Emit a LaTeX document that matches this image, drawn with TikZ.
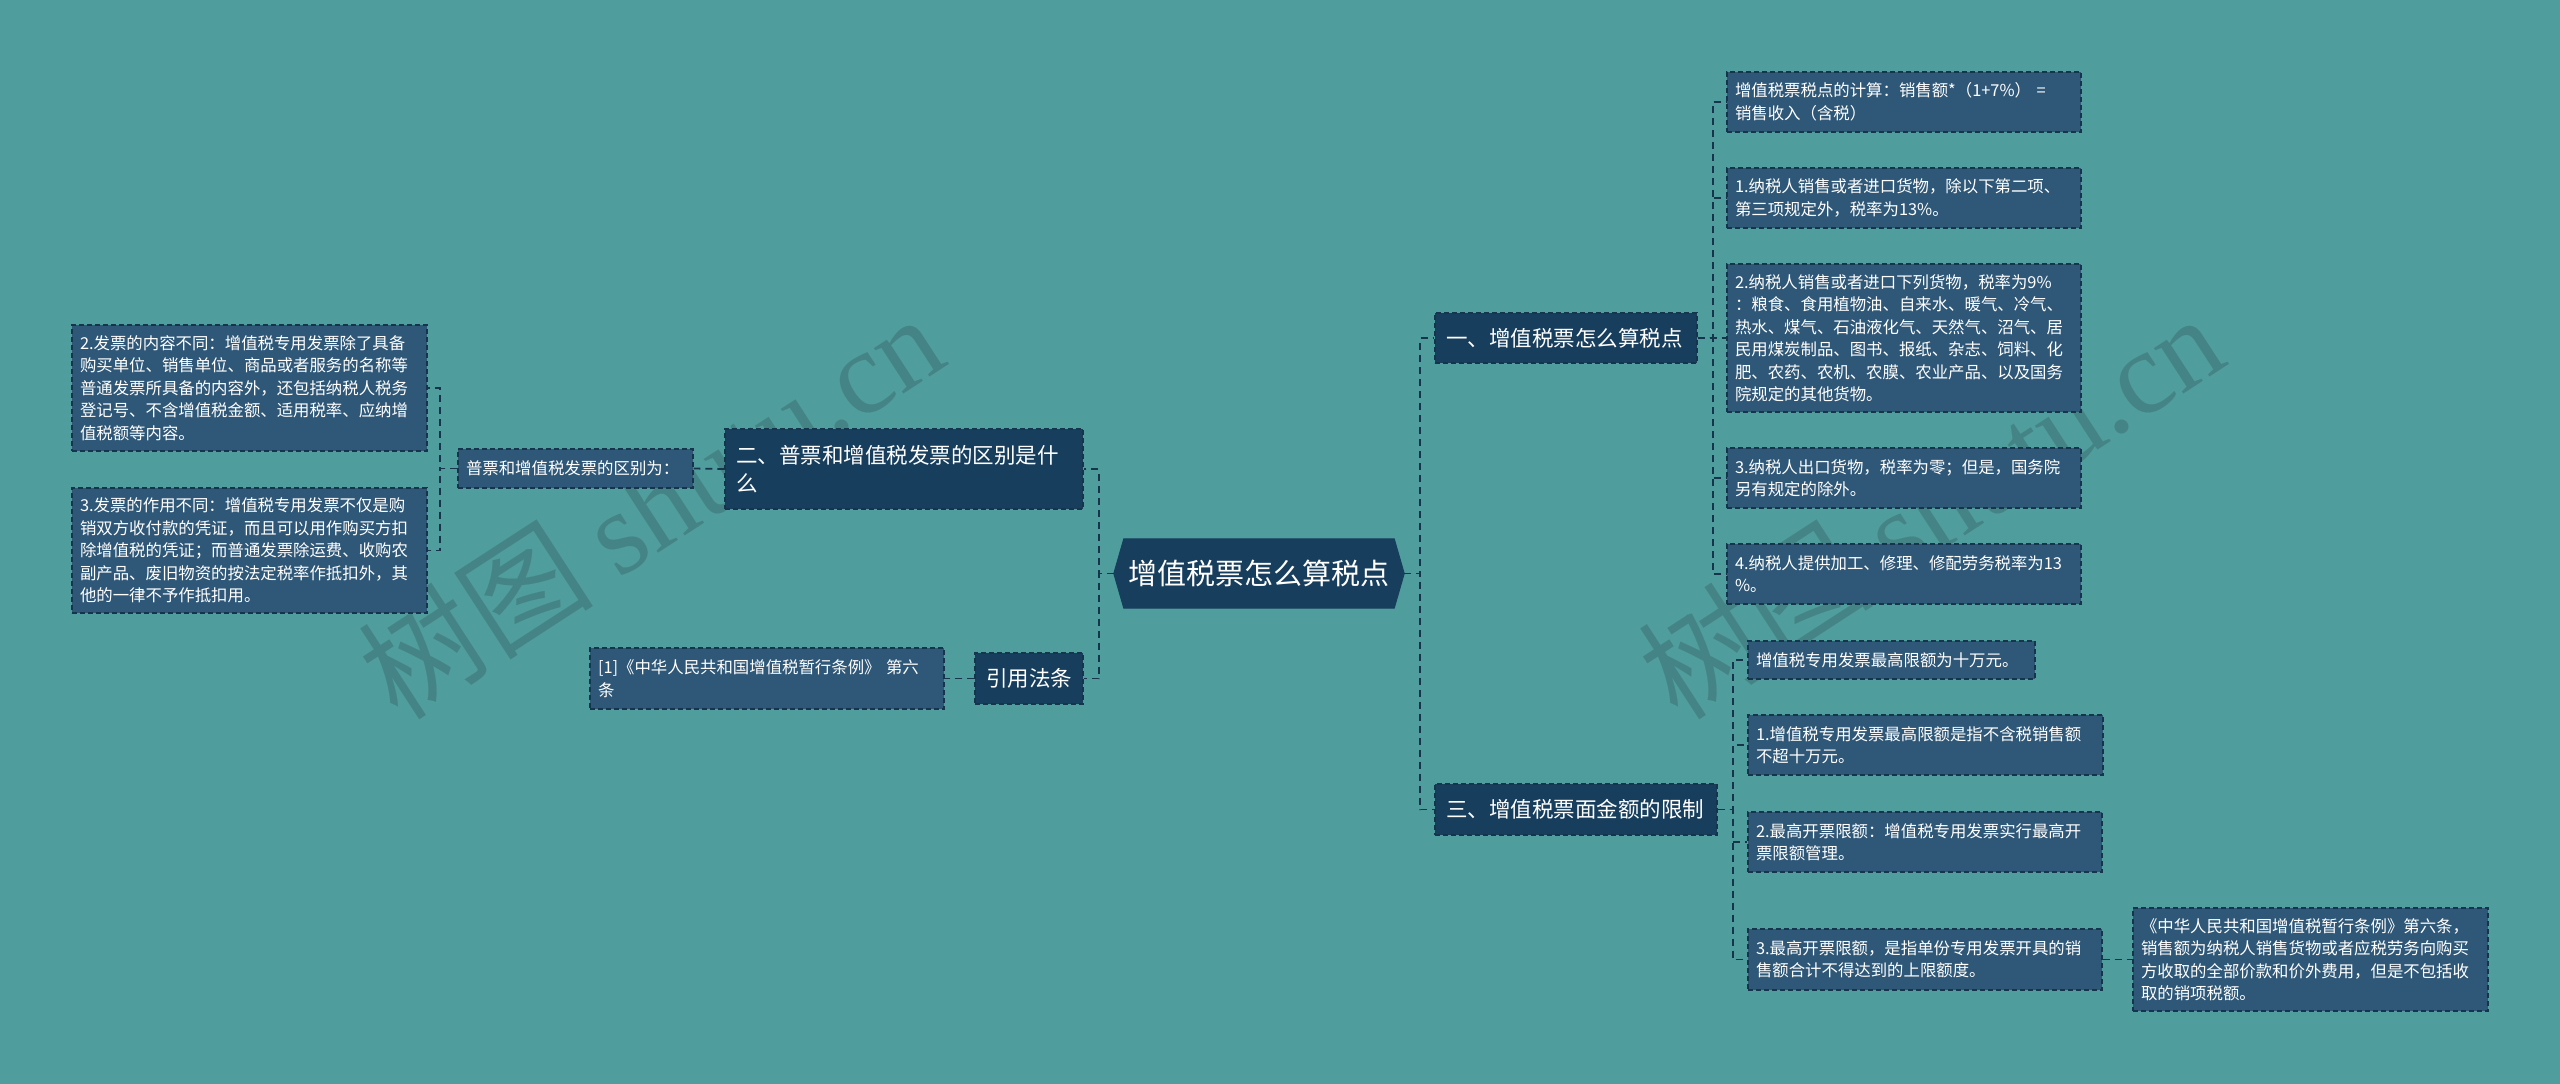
\documentclass[tikz,border=0pt]{standalone}
\usepackage{fontspec}
\setmainfont{Noto Sans CJK SC}
\newfontfamily\wmfont{Liberation Serif}
\definecolor{bgc}{RGB}{79,157,156}
\definecolor{mainc}{RGB}{24,62,93}
\definecolor{leafc}{RGB}{47,88,120}
\definecolor{edgec}{RGB}{22,52,76}
\definecolor{wmc}{RGB}{40,60,70}
\pgfdeclarelayer{bgl}
\pgfdeclarelayer{hexl}
\pgfsetlayers{bgl,hexl,main}
\tikzset{
  conn/.style={draw=edgec, line width=1.8pt, dash pattern=on 7pt off 5pt},
  mainbox/.style={fill=mainc, draw=edgec, line width=1.3pt, dash pattern=on 5pt off 3pt,
    text=white, inner xsep=11pt, inner ysep=0pt, align=left,
    font=\fontsize{21.5}{28}\selectfont},
  leafbox/.style={fill=leafc, draw=edgec, line width=1.3pt, dash pattern=on 5pt off 3pt,
    text=white, inner xsep=8pt, inner ysep=0pt, align=left,
    font=\fontsize{16.4}{22.5}\selectfont},
  wm/.style={text=wmc, opacity=0.25, rotate=33, font=\fontsize{118}{118}\selectfont},
}
\begin{document}
\begin{tikzpicture}[x=1pt,y=-1pt]
\begin{pgfonlayer}{bgl}
\fill[bgc] (0,0) rectangle (2560,1084);
\end{pgfonlayer}
\useasboundingbox (0,0) rectangle (2560,1084);

% watermarks
\node[wm] (wm1) at (650,505) {树图 {\wmfont shutu.cn}};
\node[wm] (wm2) at (1930,505) {树图 {\wmfont shutu.cn}};

% root
\node[text=white, font=\fontsize{29}{34}\selectfont, minimum width=290pt, minimum height=69pt, inner sep=0pt]
  (root) at (1259,573.5) {增值税票怎么算税点};
\begin{pgfonlayer}{hexl}
\filldraw[fill=mainc, draw=mainc, line width=1pt] (root.west) -- ([xshift=10pt]root.north west) -- ([xshift=-10pt]root.north east)
  -- (root.east) -- ([xshift=-10pt]root.south east) -- ([xshift=10pt]root.south west) -- cycle;
\end{pgfonlayer}

% main branches
\node[mainbox, minimum width=262pt, minimum height=50pt, text width=240pt] (n1) at (1566,338) {一、增值税票怎么算税点};
\node[mainbox, minimum width=282pt, minimum height=51pt, text width=260pt] (n3) at (1576,809.5) {三、增值税票面金额的限制};
\node[mainbox, minimum width=358pt, minimum height=80pt, text width=336pt] (n2) at (904,469) {二、普票和增值税发票的区别是什\\么};
\node[mainbox, minimum width=108pt, minimum height=51pt, text width=86pt] (n4) at (1029,678.5) {引用法条};

% leaves of n1
\node[leafbox, minimum width=354pt, minimum height=60pt, text width=338pt] (L1) at (1904,102) {增值税票税点的计算：销售额*（1+7\%） =\\销售收入（含税）};
\node[leafbox, minimum width=354pt, minimum height=60pt, text width=338pt] (L2) at (1904,198) {1.纳税人销售或者进口货物，除以下第二项、\\第三项规定外，税率为13\%。};
\node[leafbox, minimum width=354pt, minimum height=148pt, text width=338pt] (L3) at (1904,338) {2.纳税人销售或者进口下列货物，税率为9\%\\：粮食、食用植物油、自来水、暖气、冷气、\\热水、煤气、石油液化气、天然气、沼气、居\\民用煤炭制品、图书、报纸、杂志、饲料、化\\肥、农药、农机、农膜、农业产品、以及国务\\院规定的其他货物。};
\node[leafbox, minimum width=354pt, minimum height=60pt, text width=338pt] (L4) at (1904,478) {3.纳税人出口货物，税率为零；但是，国务院\\另有规定的除外。};
\node[leafbox, minimum width=354pt, minimum height=60pt, text width=338pt] (L5) at (1904,574) {4.纳税人提供加工、修理、修配劳务税率为13\\\%。};

% leaves of n3
\node[leafbox, minimum width=287pt, minimum height=38pt, text width=271pt] (M1) at (1891.5,660) {增值税专用发票最高限额为十万元。};
\node[leafbox, minimum width=355pt, minimum height=60pt, text width=339pt] (M2) at (1925.5,745) {1.增值税专用发票最高限额是指不含税销售额\\不超十万元。};
\node[leafbox, minimum width=354pt, minimum height=60pt, text width=338pt] (M3) at (1925,842) {2.最高开票限额：增值税专用发票实行最高开\\票限额管理。};
\node[leafbox, minimum width=354pt, minimum height=61pt, text width=338pt] (M4) at (1925,959.5) {3.最高开票限额，是指单份专用发票开具的销\\售额合计不得达到的上限额度。};
\node[leafbox, minimum width=355pt, minimum height=103pt, text width=339pt] (M5) at (2310.5,959.5) {《中华人民共和国增值税暂行条例》第六条，\\销售额为纳税人销售货物或者应税劳务向购买\\方收取的全部价款和价外费用，但是不包括收\\取的销项税额。};

% left side
\node[leafbox, minimum width=235pt, minimum height=39pt, text width=219pt] (P1) at (575.5,468.5) {普票和增值税发票的区别为：};
\node[leafbox, minimum width=355pt, minimum height=126pt, text width=339pt] (Q1) at (249.5,388) {2.发票的内容不同：增值税专用发票除了具备\\购买单位、销售单位、商品或者服务的名称等\\普通发票所具备的内容外，还包括纳税人税务\\登记号、不含增值税金额、适用税率、应纳增\\值税额等内容。};
\node[leafbox, minimum width=355pt, minimum height=125pt, text width=339pt] (Q2) at (249.5,550.5) {3.发票的作用不同：增值税专用发票不仅是购\\销双方收付款的凭证，而且可以用作购买方扣\\除增值税的凭证；而普通发票除运费、收购农\\副产品、废旧物资的按法定税率作抵扣外，其\\他的一律不予作抵扣用。};
\node[leafbox, minimum width=354pt, minimum height=61pt, text width=338pt] (R1) at (767,678.5) {[1]《中华人民共和国增值税暂行条例》 第六\\条};

% connectors
\draw[conn] (root.west) -- ++(-15,0) |- (n2.east);
\draw[conn] (root.west) -- ++(-15,0) |- (n4.east);
\draw[conn] (root.east) -- ++(16,0) |- (n1.west);
\draw[conn] (root.east) -- ++(16,0) |- (n3.west);
\foreach \c in {L1,L2,L3,L4,L5} \draw[conn] (n1.east) -- ++(15,0) |- (\c.west);
\foreach \c in {M1,M2,M3,M4} \draw[conn] (n3.east) -- ++(15,0) |- (\c.west);
\draw[conn] (M4.east) -- (M5.west);
\draw[conn] (n2.west) -- (P1.east);
\draw[conn] (n4.west) -- (R1.east);
\draw[conn] (P1.west) -- ++(-17,0) |- (Q1.east);
\draw[conn] (P1.west) -- ++(-17,0) |- (Q2.east);
\end{tikzpicture}
\end{document}
